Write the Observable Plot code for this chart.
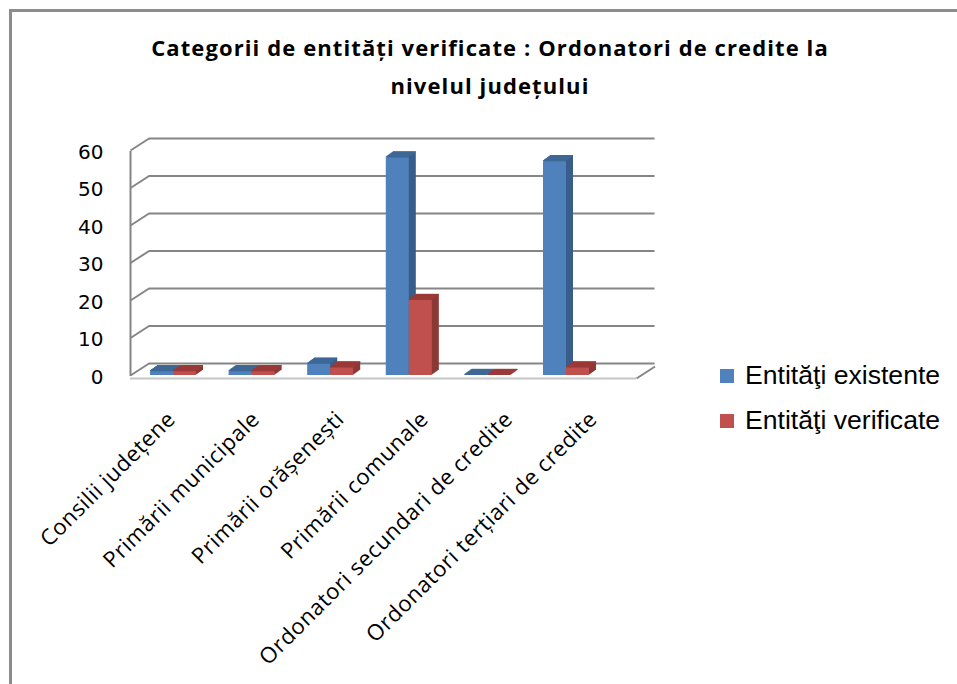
<!DOCTYPE html>
<html><head><meta charset="utf-8">
<script src="https://cdn.jsdelivr.net/npm/d3@7"></script>
<script src="https://cdn.jsdelivr.net/npm/@observablehq/plot@0.6"></script>
<style>
body{margin:0;background:#fff;}
#wrap{position:relative;width:957px;height:684px;overflow:hidden;background:#fff;}
#frame{position:absolute;left:9px;top:9px;width:1100px;height:900px;border-left:3px solid #8c8c8c;border-top:3px solid #8c8c8c;}
#title{position:absolute;left:0;top:0;width:980px;height:110px;text-align:center;font:bold 22px "Open Sans", sans-serif;letter-spacing:1.1px;line-height:38px;padding-top:28px;box-sizing:border-box;color:#000;}
#chart{position:absolute;left:0;top:110px;}
#chart g[aria-label="x-axis tick label"] text{letter-spacing:0.6px;}
.lg{position:absolute;left:720px;display:flex;align-items:center;font:26.6px "Liberation Sans", Arial, sans-serif;color:#000;}
.lg span.sw{display:inline-block;width:14px;height:14px;margin-right:11px;}
</style>
</head><body>
<div id="wrap">
  <div id="frame"></div>
  <div id="title">Categorii de entități verificate : Ordonatori de credite la<br>nivelul județului</div>
  <div id="chart"></div>
  <div id="legend"></div>
</div>
<script>
const categories = ["Consilii județene", "Primării municipale", "Primării orășenești", "Primării comunale", "Ordonatori secundari de credite", "Ordonatori terțiari de credite"];
const existente = [1, 1, 3, 58, 0, 57];
const verificate = [1, 1, 2, 20, 0, 2];
const seriesNames = ["Entităţi existente", "Entităţi verificate"];
const yTicks = [0, 10, 20, 30, 40, 50, 60];

const colors = {front: ["#4f81bd", "#c0504d"], side: ["#385d8a", "#8c3836"], top: ["#3f6896", "#9b3a37"]};
// oblique 3-D projection constants (x in category units, y in value units)
const XMAX = 6, XD = 0.22, YD = 3.2;
const BAR_POS0 = 0.51, BAR_STEP = 0.932, BW = 0.273;
const BAR_DEPTH = 7, BAR_RISE = 5;

const rows = [];
categories.forEach((c, i) => {
  const cx = BAR_POS0 + BAR_STEP * i;
  rows.push({i, s: 0, v: existente[i], x1: cx - BW, x2: cx});
  rows.push({i, s: 1, v: verificate[i], x1: cx, x2: cx + BW});
});

const marks = [];
// back wall gridlines
marks.push(Plot.ruleY(yTicks, {y: d => d + YD, x1: XD, x2: XMAX + XD, stroke: "#858585", strokeWidth: 2}));
// left wall connectors
marks.push(Plot.link(yTicks, {x1: 0, x2: XD, y1: d => d, y2: d => d + YD, stroke: "#858585", strokeWidth: 2}));
marks.push(Plot.ruleX([0], {y1: 0, y2: 60, stroke: "#858585", strokeWidth: 2, dy: 1}));
// floor
marks.push(Plot.ruleY([0], {x1: 0, x2: XMAX, dy: 3, stroke: "#c6c6c6", strokeWidth: 2}));
marks.push(Plot.link([0], {x1: XMAX, x2: XMAX + XD, y1: 0, y2: YD, dy: 3, stroke: "#858585", strokeWidth: 2}));

for (const s of [0, 1]) {
  const data = rows.filter(r => r.s === s);
  for (let k = 1; k <= BAR_DEPTH; k++) {
    marks.push(Plot.rect(data, {x1: "x1", x2: "x2", y1: 0, y2: "v", fill: colors.side[s], dx: k, dy: -k * BAR_RISE / BAR_DEPTH, insetTop: -1}));
  }
  for (let k = 0; k <= BAR_DEPTH; k++) {
    marks.push(Plot.rect(data, {x1: "x1", x2: "x2", y1: "v", y2: "v", fill: colors.top[s], dx: k, dy: -k * BAR_RISE / BAR_DEPTH, insetTop: -1.2}));
  }
  marks.push(Plot.rect(data, {x1: "x1", x2: "x2", y1: 0, y2: "v", fill: colors.front[s]}));
}

marks.push(Plot.axisY(yTicks, {label: null, tickSize: 0, tickPadding: 27, fontSize: 20, fontFamily: "DejaVu Sans", fill: "#000", dy: 2}));
marks.push(Plot.axisX(categories.map((c, i) => i + 0.5), {label: null, tickSize: 0, tickRotate: -45, tickPadding: 32, dx: -1, dy: 8, tickFormat: d => categories[Math.round(d - 0.5)], fontSize: 22, fontFamily: "Open Sans", fill: "#000"}));

const chart = Plot.plot({
  width: 957,
  height: 574,
  marginLeft: 130,
  marginRight: 321,
  marginTop: 40,
  marginBottom: 309,
  x: {type: "linear", domain: [0, XMAX]},
  y: {domain: [0, 60]},
  style: {background: "transparent", overflow: "visible"},
  marks
});
document.getElementById("chart").appendChild(chart);

const lg = document.getElementById("legend");
seriesNames.forEach((n, s) => {
  const d = document.createElement("div");
  d.className = "lg";
  d.style.top = (360 + s * 45) + "px";
  d.innerHTML = `<span class="sw" style="background:${colors.front[s]}"></span>${n}`;
  lg.appendChild(d);
});
</script>
</body></html>
